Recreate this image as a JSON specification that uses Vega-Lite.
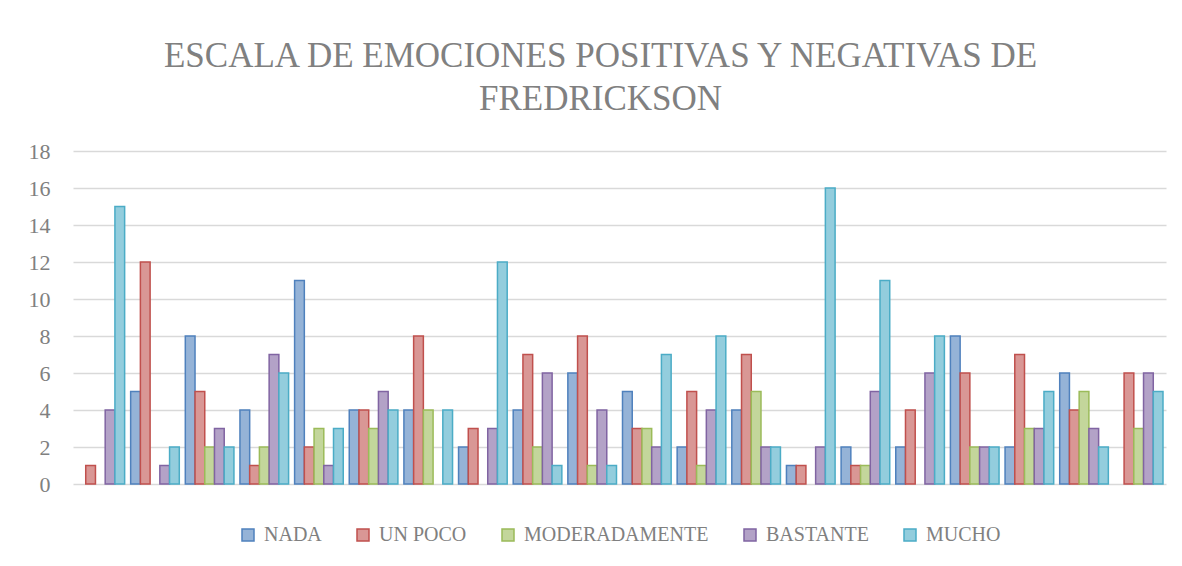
{
  "$schema": "https://vega.github.io/schema/vega-lite/v6.json",
  "width": 1093,
  "height": 333,
  "autosize": {"type": "none"},
  "padding": {"left": 73, "top": 151, "right": 16, "bottom": 82},
  "background": "white",
  "title": {
    "text": ["ESCALA DE EMOCIONES POSITIVAS Y NEGATIVAS DE", "FREDRICKSON"],
    "font": "Liberation Serif",
    "fontSize": 35,
    "fontWeight": "normal",
    "color": "#808080",
    "lineHeight": 43,
    "anchor": "middle",
    "dx": -19,
    "offset": 23
  },
  "data": {
    "values": [
      {"g": 1, "s": "NADA", "v": 0}, {"g": 1, "s": "UN POCO", "v": 1}, {"g": 1, "s": "MODERADAMENTE", "v": 0}, {"g": 1, "s": "BASTANTE", "v": 4}, {"g": 1, "s": "MUCHO", "v": 15},
      {"g": 2, "s": "NADA", "v": 5}, {"g": 2, "s": "UN POCO", "v": 12}, {"g": 2, "s": "MODERADAMENTE", "v": 0}, {"g": 2, "s": "BASTANTE", "v": 1}, {"g": 2, "s": "MUCHO", "v": 2},
      {"g": 3, "s": "NADA", "v": 8}, {"g": 3, "s": "UN POCO", "v": 5}, {"g": 3, "s": "MODERADAMENTE", "v": 2}, {"g": 3, "s": "BASTANTE", "v": 3}, {"g": 3, "s": "MUCHO", "v": 2},
      {"g": 4, "s": "NADA", "v": 4}, {"g": 4, "s": "UN POCO", "v": 1}, {"g": 4, "s": "MODERADAMENTE", "v": 2}, {"g": 4, "s": "BASTANTE", "v": 7}, {"g": 4, "s": "MUCHO", "v": 6},
      {"g": 5, "s": "NADA", "v": 11}, {"g": 5, "s": "UN POCO", "v": 2}, {"g": 5, "s": "MODERADAMENTE", "v": 3}, {"g": 5, "s": "BASTANTE", "v": 1}, {"g": 5, "s": "MUCHO", "v": 3},
      {"g": 6, "s": "NADA", "v": 4}, {"g": 6, "s": "UN POCO", "v": 4}, {"g": 6, "s": "MODERADAMENTE", "v": 3}, {"g": 6, "s": "BASTANTE", "v": 5}, {"g": 6, "s": "MUCHO", "v": 4},
      {"g": 7, "s": "NADA", "v": 4}, {"g": 7, "s": "UN POCO", "v": 8}, {"g": 7, "s": "MODERADAMENTE", "v": 4}, {"g": 7, "s": "BASTANTE", "v": 0}, {"g": 7, "s": "MUCHO", "v": 4},
      {"g": 8, "s": "NADA", "v": 2}, {"g": 8, "s": "UN POCO", "v": 3}, {"g": 8, "s": "MODERADAMENTE", "v": 0}, {"g": 8, "s": "BASTANTE", "v": 3}, {"g": 8, "s": "MUCHO", "v": 12},
      {"g": 9, "s": "NADA", "v": 4}, {"g": 9, "s": "UN POCO", "v": 7}, {"g": 9, "s": "MODERADAMENTE", "v": 2}, {"g": 9, "s": "BASTANTE", "v": 6}, {"g": 9, "s": "MUCHO", "v": 1},
      {"g": 10, "s": "NADA", "v": 6}, {"g": 10, "s": "UN POCO", "v": 8}, {"g": 10, "s": "MODERADAMENTE", "v": 1}, {"g": 10, "s": "BASTANTE", "v": 4}, {"g": 10, "s": "MUCHO", "v": 1},
      {"g": 11, "s": "NADA", "v": 5}, {"g": 11, "s": "UN POCO", "v": 3}, {"g": 11, "s": "MODERADAMENTE", "v": 3}, {"g": 11, "s": "BASTANTE", "v": 2}, {"g": 11, "s": "MUCHO", "v": 7},
      {"g": 12, "s": "NADA", "v": 2}, {"g": 12, "s": "UN POCO", "v": 5}, {"g": 12, "s": "MODERADAMENTE", "v": 1}, {"g": 12, "s": "BASTANTE", "v": 4}, {"g": 12, "s": "MUCHO", "v": 8},
      {"g": 13, "s": "NADA", "v": 4}, {"g": 13, "s": "UN POCO", "v": 7}, {"g": 13, "s": "MODERADAMENTE", "v": 5}, {"g": 13, "s": "BASTANTE", "v": 2}, {"g": 13, "s": "MUCHO", "v": 2},
      {"g": 14, "s": "NADA", "v": 1}, {"g": 14, "s": "UN POCO", "v": 1}, {"g": 14, "s": "MODERADAMENTE", "v": 0}, {"g": 14, "s": "BASTANTE", "v": 2}, {"g": 14, "s": "MUCHO", "v": 16},
      {"g": 15, "s": "NADA", "v": 2}, {"g": 15, "s": "UN POCO", "v": 1}, {"g": 15, "s": "MODERADAMENTE", "v": 1}, {"g": 15, "s": "BASTANTE", "v": 5}, {"g": 15, "s": "MUCHO", "v": 11},
      {"g": 16, "s": "NADA", "v": 2}, {"g": 16, "s": "UN POCO", "v": 4}, {"g": 16, "s": "MODERADAMENTE", "v": 0}, {"g": 16, "s": "BASTANTE", "v": 6}, {"g": 16, "s": "MUCHO", "v": 8},
      {"g": 17, "s": "NADA", "v": 8}, {"g": 17, "s": "UN POCO", "v": 6}, {"g": 17, "s": "MODERADAMENTE", "v": 2}, {"g": 17, "s": "BASTANTE", "v": 2}, {"g": 17, "s": "MUCHO", "v": 2},
      {"g": 18, "s": "NADA", "v": 2}, {"g": 18, "s": "UN POCO", "v": 7}, {"g": 18, "s": "MODERADAMENTE", "v": 3}, {"g": 18, "s": "BASTANTE", "v": 3}, {"g": 18, "s": "MUCHO", "v": 5},
      {"g": 19, "s": "NADA", "v": 6}, {"g": 19, "s": "UN POCO", "v": 4}, {"g": 19, "s": "MODERADAMENTE", "v": 5}, {"g": 19, "s": "BASTANTE", "v": 3}, {"g": 19, "s": "MUCHO", "v": 2},
      {"g": 20, "s": "NADA", "v": 0}, {"g": 20, "s": "UN POCO", "v": 6}, {"g": 20, "s": "MODERADAMENTE", "v": 3}, {"g": 20, "s": "BASTANTE", "v": 6}, {"g": 20, "s": "MUCHO", "v": 5}
    ]
  },
  "transform": [{"filter": "datum.v > 0"}],
  "mark": {"type": "bar", "strokeWidth": 1.5, "opacity": 1},
  "encoding": {
    "x": {
      "field": "g",
      "type": "ordinal",
      "scale": {"domain": [1,2,3,4,5,6,7,8,9,10,11,12,13,14,15,16,17,18,19,20], "paddingInner": 0.11, "paddingOuter": 0.055},
      "axis": null
    },
    "xOffset": {
      "field": "s",
      "type": "nominal",
      "scale": {"domain": ["NADA", "UN POCO", "MODERADAMENTE", "BASTANTE", "MUCHO"], "paddingInner": 0, "paddingOuter": 0}
    },
    "y": {
      "field": "v",
      "type": "quantitative",
      "scale": {"domain": [0, 18], "nice": false},
      "axis": {
        "title": null,
        "values": [0,2,4,6,8,10,12,14,16,18],
        "domain": false,
        "ticks": false,
        "labelPadding": 23,
        "labelFont": "Liberation Serif",
        "labelFontSize": 22,
        "labelColor": "#808080",
        "gridColor": "#d9d9d9",
        "gridWidth": 1.5
      }
    },
    "fill": {
      "field": "s",
      "type": "nominal",
      "scale": {"domain": ["NADA", "UN POCO", "MODERADAMENTE", "BASTANTE", "MUCHO"], "range": ["#95b3d7", "#d99795", "#c3d69b", "#b3a2c7", "#93cddd"]},
      "legend": {
        "title": null,
        "orient": "bottom",
        "direction": "horizontal",
        "offset": 41,
        "symbolType": "square",
        "symbolSize": 144,
        "symbolStrokeWidth": 1.5,
        "symbolOpacity": 1,
        "labelFont": "Liberation Serif",
        "labelFontSize": 20,
        "labelColor": "#808080",
        "labelOffset": 6,
        "columnPadding": 31,
        "labelLimit": 400
      }
    },
    "stroke": {
      "field": "s",
      "type": "nominal",
      "scale": {"domain": ["NADA", "UN POCO", "MODERADAMENTE", "BASTANTE", "MUCHO"], "range": ["#4f81bd", "#c0504d", "#9bbb59", "#8064a2", "#4bacc6"]},
      "legend": {
        "title": null,
        "orient": "bottom",
        "direction": "horizontal",
        "offset": 41,
        "symbolType": "square",
        "symbolSize": 144,
        "symbolStrokeWidth": 1.5,
        "symbolOpacity": 1,
        "labelFont": "Liberation Serif",
        "labelFontSize": 20,
        "labelColor": "#808080",
        "labelOffset": 6,
        "columnPadding": 31,
        "labelLimit": 400
      }
    }
  },
  "config": {
    "view": {"stroke": null},
    "legend": {"layout": {"bottom": {"anchor": "middle"}}}
  }
}
